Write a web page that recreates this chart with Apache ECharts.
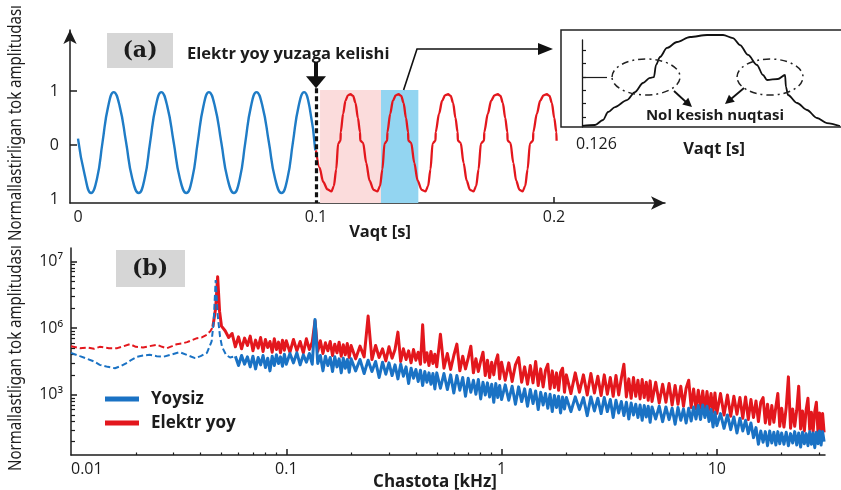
<!DOCTYPE html>
<html>
<head>
<meta charset="utf-8">
<script src="https://cdn.jsdelivr.net/npm/echarts@6.0.0/dist/echarts.min.js"></script>
<style>
html,body{margin:0;padding:0;background:#ffffff;}
#chart{width:841px;height:490px;}
</style>
</head>
<body>
<div id="chart"></div>
<script>
// ================= Panel (a): normalized current vs time =================
const timeTickLabels = [0, 0.1, 0.2];
const ampTickValues = [-1, 0, 1];
const arcOnset = 0.1;                 // s, arc appears
const arcWindow = [0.1017, 0.1273];   // s, pink region
const zoomWindow = [0.1273, 0.1430];  // s, blue region (zoomed in inset)

// [time s, normalized amplitude] - no arc (blue)
const noArcWave = [
  [0,0.12],[0.0028,-0.55],[0.0055,-0.89],[0.0080,-0.62],[0.0103,0.05],[0.0127,0.72],[0.0150,0.98],[0.0175,0.72],
  [0.0202,0.05],[0.0228,-0.62],[0.0255,-0.89],[0.0280,-0.62],[0.0303,0.05],[0.0327,0.72],[0.0350,0.98],[0.0375,0.72],
  [0.0402,0.05],[0.0428,-0.62],[0.0455,-0.89],[0.0480,-0.62],[0.0503,0.05],[0.0527,0.72],[0.0550,0.98],[0.0575,0.72],
  [0.0602,0.05],[0.0628,-0.62],[0.0655,-0.89],[0.0680,-0.62],[0.0703,0.05],[0.0727,0.72],[0.0750,0.98],[0.0775,0.72],
  [0.0802,0.05],[0.0828,-0.62],[0.0855,-0.89],[0.0880,-0.62],[0.0903,0.05],[0.0927,0.72],[0.0950,0.98],[0.0973,0.70],
  [0.0997,-0.10]
];
// [time s, normalized amplitude] - with arc (red)
const arcWave = [
  [0.1000,-0.10],[0.1015,-0.42],[0.1030,-0.68],[0.1048,-0.82],
  [0.1065,-0.86],[0.1075,-0.76],[0.1085,-0.45],[0.1093,0.03],[0.1103,0.08],[0.1104,0.24],[0.1114,0.58],[0.1124,0.82],[0.1134,0.92],[0.1145,0.94],
  [0.1156,0.91],[0.1166,0.78],[0.1176,0.50],[0.1185,0.24],[0.1186,0.08],[0.1198,0.04],[0.1211,-0.33],[0.1225,-0.66],[0.1242,-0.83],
  [0.1258,-0.86],[0.1269,-0.76],[0.1279,-0.45],[0.1288,0.03],[0.1299,0.08],[0.1300,0.24],[0.1312,0.58],[0.1323,0.82],[0.1335,0.92],[0.1347,0.94],
  [0.1358,0.91],[0.1368,0.78],[0.1378,0.50],[0.1387,0.24],[0.1388,0.08],[0.1400,0.04],[0.1413,-0.33],[0.1427,-0.66],[0.1444,-0.83],
  [0.1460,-0.86],[0.1471,-0.76],[0.1481,-0.45],[0.1490,0.03],[0.1502,0.08],[0.1503,0.24],[0.1517,0.58],[0.1530,0.82],[0.1542,0.92],[0.1555,0.94],
  [0.1566,0.91],[0.1576,0.78],[0.1586,0.50],[0.1595,0.24],[0.1596,0.08],[0.1608,0.04],[0.1620,-0.33],[0.1633,-0.66],[0.1647,-0.83],
  [0.1662,-0.86],[0.1673,-0.76],[0.1683,-0.45],[0.1693,0.03],[0.1706,0.08],[0.1707,0.24],[0.1722,0.58],[0.1736,0.82],[0.1750,0.92],[0.1764,0.94],
  [0.1775,0.91],[0.1785,0.78],[0.1795,0.50],[0.1804,0.24],[0.1805,0.08],[0.1817,0.04],[0.1829,-0.33],[0.1841,-0.66],[0.1855,-0.83],
  [0.1868,-0.86],[0.1879,-0.76],[0.1889,-0.45],[0.1899,0.03],[0.1912,0.08],[0.1913,0.24],[0.1928,0.58],[0.1942,0.82],[0.1956,0.92],[0.1970,0.94],
  [0.1981,0.91],[0.1991,0.78],[0.2001,0.50],[0.2010,0.24],[0.2011,0.08]
];

// Inset: one half cycle starting at 0.126 s (relative amplitude)
const insetRange = [0.126, 0.1435];
const insetCurve = [
  [0.12600,0.011],[0.12688,0.022],[0.12742,0.076],[0.12776,0.163],[0.12823,0.217],[0.12904,0.293],[0.12958,0.380],
  [0.13012,0.478],[0.13059,0.533],[0.13086,0.543],[0.13100,0.674],[0.13127,0.761],[0.13174,0.859],[0.13242,0.924],
  [0.13330,0.978],[0.13445,1.000],[0.13553,1.000],[0.13620,0.967],[0.13668,0.891],[0.13722,0.783],[0.13782,0.674],
  [0.13823,0.565],[0.13850,0.511],[0.13924,0.522],[0.13972,0.565],[0.13978,0.435],[0.13992,0.348],[0.14053,0.261],
  [0.14120,0.185],[0.14188,0.098],[0.14255,0.043],[0.14343,0.011]
];
const insetTicks = [0.11, 0.255, 0.40, 0.545, 0.69, 0.835];
const insetMarkLevel = 0.54;

// ================= Panel (b): spectrum =================
const freqTickLabels = [0.01, 0.1, 1, 10];       // kHz
const levelTickValues = [30, 40, 50];
const levelTickLabels = ['10³', '10⁶', '10⁷'];

// low-frequency part (dashed)  [kHz, level]
const lowFreqNoArc = [
  [0.0100,36.3],[0.0110,35.8],[0.0119,35.4],[0.0128,35.0],[0.0136,34.5],[0.0148,34.2],[0.0160,34.0],[0.0170,34.3],
  [0.0182,34.8],[0.0192,35.3],[0.0202,35.7],[0.0216,35.9],[0.0232,36.0],[0.0250,35.8],[0.0268,35.7],[0.0290,36.0],
  [0.0320,36.4],[0.0345,36.0],[0.0377,35.5],[0.0400,35.8],[0.0428,36.3],[0.0450,38.0],[0.0460,41.0],[0.0470,47.2],
  [0.0480,42.0],[0.0492,38.8],[0.0503,37.2],[0.0525,36.0],[0.0548,35.6],[0.0580,35.8]
];
const lowFreqArc = [
  [0.0100,37.3],[0.0110,37.0],[0.0119,37.1],[0.0128,36.9],[0.0136,37.2],[0.0150,37.0],[0.0164,37.0],[0.0176,37.3],
  [0.0188,37.6],[0.0200,37.2],[0.0216,37.1],[0.0232,37.3],[0.0251,37.5],[0.0265,37.2],[0.0279,37.0],[0.0295,37.3],
  [0.0310,37.6],[0.0328,37.7],[0.0346,37.9],[0.0365,38.2],[0.0385,38.5],[0.0405,38.6],[0.0428,39.0],[0.0445,39.6],[0.0456,40.2]
];
const arcPeak = [[0.0456,40.2],[0.0470,43.0],[0.0480,47.7],[0.0490,42.5],[0.0500,40.3]];

const specFreq = [
  0.052,0.054,0.056,0.058,0.060,0.062,0.064,0.066,0.068,0.070,0.072,0.074,0.076,0.078,0.080,0.082,0.084,0.086,0.088,0.090,0.092,0.094,0.096,0.098,0.100,
  0.104,0.108,0.112,0.116,0.120,0.124,0.128,0.132,0.136,0.140,0.144,0.148,0.152,0.156,0.160,0.164,0.168,0.172,0.176,0.180,0.184,0.188,0.192,0.196,0.200,
  0.21,0.22,0.23,0.24,0.25,0.26,0.27,0.28,0.29,0.30,0.31,0.32,0.33,0.34,0.35,0.36,0.37,0.38,0.39,0.40,0.41,0.42,0.43,0.44,0.45,0.46,0.47,0.48,0.49,0.50,
  0.52,0.54,0.56,0.58,0.60,0.62,0.64,0.66,0.68,0.70,0.72,0.74,0.76,0.78,0.80,0.82,0.84,0.86,0.88,0.90,0.92,0.94,0.96,0.98,1.00,
  1.04,1.08,1.12,1.16,1.20,1.24,1.28,1.32,1.36,1.40,1.44,1.48,1.52,1.56,1.60,1.64,1.68,1.72,1.76,1.80,1.84,1.88,1.92,1.96,2.00,
  2.1,2.2,2.3,2.4,2.5,2.6,2.7,2.8,2.9,3.0,3.1,3.2,3.3,3.4,3.5,3.6,3.7,3.8,3.9,4.0,4.1,4.2,4.3,4.4,4.5,4.6,4.7,4.8,4.9,5.0,
  5.2,5.4,5.6,5.8,6.0,6.2,6.4,6.6,6.8,7.0,7.2,7.4,7.6,7.8,8.0,8.2,8.4,8.6,8.8,9.0,9.2,9.4,9.6,9.8,10.0,
  10.4,10.8,11.2,11.6,12.0,12.4,12.8,13.2,13.6,14.0,14.4,14.8,15.2,15.6,16.0,16.4,16.8,17.2,17.6,18.0,18.4,18.8,19.2,19.6,20.0,
  20.5,21.0,21.5,22.0,22.5,23.0,23.5,24.0,24.5,25.0,25.5,26.0,26.5,27.0,27.5,28.0,28.5,29.0,29.5,30.0,30.5,31.0,31.5
];
const specArc = [
  39.6,38.6,39.2,37.2,38.7,36.9,38.5,37.4,38.8,36.6,38.2,37.0,38.6,36.5,38.3,37.1,38.0,36.4,38.4,36.8,37.9,36.3,38.2,36.7,38.1,
  36.4,38.3,36.6,38.0,36.3,38.4,36.8,37.9,41.1,36.5,38.1,36.2,37.8,36.6,38.0,35.9,37.6,36.3,37.9,35.8,37.5,36.0,37.7,35.6,37.4,
  35.4,37.3,35.7,41.8,35.3,37.4,35.6,36.9,35.1,37.2,35.5,36.8,39.4,35.0,36.9,35.3,36.6,34.8,36.8,35.2,36.4,34.6,40.5,34.9,36.3,34.4,36.5,34.7,36.1,34.2,
  39.1,34.0,36.2,33.8,35.9,37.6,33.6,35.8,33.9,35.5,37.3,33.3,35.4,33.5,35.1,36.4,32.9,35.2,32.6,34.9,33.0,35.0,36.0,32.4,34.9,
  32.2,34.8,32.0,34.5,35.6,31.9,34.2,31.6,34.4,31.8,35.0,31.4,33.9,31.2,33.7,34.6,30.9,33.6,31.1,33.3,30.7,33.4,34.0,30.4,33.0,
  30.2,33.3,30.4,33.0,30.0,33.2,30.3,32.8,29.9,33.0,30.1,32.6,29.8,32.9,30.0,32.5,34.6,29.7,32.4,29.5,32.6,29.8,32.2,29.4,32.3,29.6,31.9,29.2,32.1,29.0,
  31.9,28.8,31.6,28.9,31.7,28.5,31.4,28.6,31.3,28.3,31.0,32.2,28.1,30.9,27.9,30.7,28.0,30.6,27.6,30.5,27.8,30.2,27.4,30.3,27.2,
  30.2,27.0,30.0,26.8,29.8,27.1,29.6,26.5,29.7,26.3,29.3,26.6,29.1,26.0,28.9,29.6,25.8,28.6,25.6,28.4,25.9,28.2,30.2,25.3,28.0,
  25.2,28.1,32.7,25.0,27.9,25.3,27.7,31.3,24.9,27.6,24.6,27.8,29.5,24.8,27.4,24.5,27.5,28.9,24.3,27.3,24.6,27.2,24.4
];
const specNoArc = [
  null,null,null,35.8,34.4,35.9,34.6,35.7,34.2,35.8,33.9,35.6,34.5,35.9,34.1,35.5,33.6,35.8,34.4,36.0,34.7,35.7,34.3,36.1,34.6,
  36.2,34.8,36.3,34.5,36.0,34.9,36.2,34.6,41.3,34.7,35.9,33.6,35.8,34.4,35.6,33.5,35.7,34.2,35.4,33.3,35.5,34.0,35.3,33.4,35.4,
  33.6,35.3,33.2,35.2,33.5,35.0,32.6,34.9,33.1,34.8,32.9,34.5,32.4,34.6,32.8,34.2,31.7,34.0,32.5,33.8,32.0,33.7,31.4,33.5,31.9,33.3,31.6,33.2,30.9,33.3,
  31.0,33.2,30.8,33.0,30.3,32.9,30.7,32.6,29.8,32.5,30.4,32.2,30.1,32.3,29.4,31.9,30.0,31.8,29.7,31.6,28.9,31.7,29.6,31.4,29.3,
  31.5,29.2,31.3,28.6,31.2,29.0,30.9,28.3,30.8,28.7,30.6,27.8,30.4,28.5,30.2,28.0,30.1,27.5,29.9,28.1,29.8,27.3,29.7,27.9,29.6,
  27.5,29.7,27.8,29.6,26.9,29.7,27.6,29.5,27.2,29.6,27.5,29.3,26.6,29.2,27.3,29.0,26.9,28.9,26.4,28.8,27.0,28.6,26.6,28.5,26.2,28.4,26.7,28.3,25.9,28.2,
  26.4,28.3,26.0,28.2,26.3,28.0,25.6,28.1,26.2,27.9,25.8,28.0,26.1,28.2,26.4,28.4,26.3,28.5,26.6,28.3,26.0,27.8,25.2,27.4,25.4,
  27.2,25.0,27.0,24.8,26.7,24.3,26.5,24.6,26.2,24.2,25.8,23.6,25.1,22.6,24.6,22.9,24.5,22.4,24.6,22.8,24.4,22.5,24.5,22.7,24.3,
  22.6,24.4,22.4,24.2,22.8,24.5,22.5,24.3,22.2,24.4,22.7,24.2,22.4,24.5,22.6,24.3,22.1,24.4,22.7,24.6,22.5,24.5,23.0
];

// ================= build =================
const BLUE = '#1a72c4', RED = '#e3171d', INK = '#1c1c1c';
const FONT = '"Open Sans", "Noto Sans", sans-serif';
const lg = Math.log10;
const fMax = 31.8;
const toLogPairs = arr => arr.map(p => [lg(p[0]), p[1]]);
const specPairs = vals => specFreq.map((f, i) => [lg(f), vals[i]]).filter(p => p[1] != null);

const xMinor = [];
for (let d = -2; d <= 1; d++) for (let k = 2; k <= 9; k++) { const v = d + lg(k); if (v < lg(fMax)) xMinor.push(v); }
const yMinor = [];
for (let b = 20; b <= 50; b += 10) for (let k = 2; k <= 9; k++) { const v = b + 10 * lg(k); if (v > 21 && v < 52) yMinor.push(v); }

const chart = echarts.init(document.getElementById('chart'), null, {width: 841, height: 490});
const axisLineStyle = {color: INK, width: 1.5};
const labelStyle = {color: INK, fontSize: 16, fontFamily: FONT};

chart.setOption({
  animation: false,
  backgroundColor: '#ffffff',
  grid: [
    {left: 70, top: 30, width: 595, height: 173},
    {left: 71, top: 248, width: 754, height: 207},
    {left: 582, top: 40, width: 259, height: 87}
  ],
  legend: {
    data: ['Yoysiz', 'Elektr yoy'], orient: 'vertical', left: 100, top: 385,
    itemWidth: 34, itemHeight: 5, itemGap: 6, icon: 'rect',
    textStyle: {color: INK, fontSize: 17, fontWeight: 'bold', fontFamily: FONT, lineHeight: 18, padding: [0, 0, 0, 7]}
  },
  xAxis: [
    {gridIndex: 0, type: 'value', min: -0.00336, max: 0.24664, splitLine: {show: false},
      axisLine: {onZero: false, lineStyle: axisLineStyle, symbol: ['none', 'arrow'], symbolSize: [10, 14]},
      axisTick: {inside: true, length: 6, customValues: [0.2], lineStyle: axisLineStyle},
      axisLabel: Object.assign({customValues: timeTickLabels, margin: 6, formatter: v => String(+v.toFixed(2))}, labelStyle)},
    {gridIndex: 1, type: 'value', position: 'bottom', min: -2, max: lg(fMax), splitLine: {show: false},
      axisLine: {onZero: false, lineStyle: axisLineStyle},
      axisTick: {inside: true, length: 6, customValues: freqTickLabels.slice(1).map(lg), lineStyle: axisLineStyle},
      axisLabel: Object.assign({customValues: freqTickLabels.map(lg), margin: 6, alignMinLabel: 'left',
        formatter: v => String(+Math.pow(10, v).toPrecision(3))}, labelStyle)},
    {gridIndex: 1, type: 'value', position: 'bottom', min: -2, max: lg(fMax), splitLine: {show: false},
      axisLine: {show: false, onZero: false}, axisLabel: {show: false},
      axisTick: {inside: true, length: 2.5, customValues: xMinor, lineStyle: {color: INK, width: 1.2}}},
    {gridIndex: 2, type: 'value', min: insetRange[0], max: insetRange[1], show: false, axisLine: {onZero: false}}
  ],
  yAxis: [
    {gridIndex: 0, type: 'value', min: -1.074, max: 2.13, splitLine: {show: false},
      axisLine: {onZero: false, lineStyle: axisLineStyle, symbol: ['none', 'arrow'], symbolSize: [10, 14]},
      axisTick: {inside: true, length: 7, customValues: [0, 1], lineStyle: axisLineStyle},
      axisLabel: Object.assign({customValues: ampTickValues, margin: 11, formatter: v => String(Math.abs(v))}, labelStyle)},
    {gridIndex: 1, type: 'value', position: 'left', min: 21, max: 52, splitLine: {show: false},
      axisLine: {onZero: false, lineStyle: axisLineStyle},
      axisTick: {inside: true, length: 6, customValues: levelTickValues, lineStyle: axisLineStyle},
      axisLabel: Object.assign({customValues: levelTickValues, margin: 8,
        formatter: v => levelTickLabels[levelTickValues.indexOf(Math.round(v))]}, labelStyle)},
    {gridIndex: 1, type: 'value', position: 'left', min: 21, max: 52, splitLine: {show: false},
      axisLine: {show: false, onZero: false}, axisLabel: {show: false},
      axisTick: {inside: true, length: 4, customValues: yMinor, lineStyle: {color: INK, width: 1.2}}},
    {gridIndex: 2, type: 'value', min: 0, max: 87 / 92, splitLine: {show: false},
      axisLine: {onZero: false, lineStyle: {color: INK, width: 1.3}},
      axisTick: {inside: true, length: 4, customValues: insetTicks, lineStyle: {color: INK, width: 1.2}},
      axisLabel: {show: false}}
  ],
  series: [
    {name: 'regions', type: 'line', xAxisIndex: 0, yAxisIndex: 0, data: [], z: 1, silent: true,
      markArea: {silent: true, data: [
        [{coord: [arcWindow[0], 1.02], itemStyle: {color: '#fbdcdc'}}, {coord: [arcWindow[1], -1.074]}],
        [{coord: [zoomWindow[0], 1.02], itemStyle: {color: '#93d5f1'}}, {coord: [zoomWindow[1], -1.074]}]
      ]}},
    {name: 'noArcWave', type: 'line', xAxisIndex: 0, yAxisIndex: 0, data: noArcWave, smooth: true,
      symbol: 'none', z: 3, lineStyle: {color: '#1f7cc6', width: 2.4}, itemStyle: {color: '#1f7cc6'}},
    {name: 'arcWave', type: 'line', xAxisIndex: 0, yAxisIndex: 0, data: arcWave, smooth: 0.3, smoothMonotone: 'x',
      symbol: 'none', z: 3, lineStyle: {color: RED, width: 2.3, join: 'round'}, itemStyle: {color: RED}},
    {name: 'onset', type: 'line', xAxisIndex: 0, yAxisIndex: 0, data: [], z: 5, silent: true,
      markLine: {silent: true, symbol: 'none', label: {show: false},
        lineStyle: {color: '#111', width: 3.2, type: [5, 3]},
        data: [[{coord: [arcOnset, 1.05]}, {coord: [arcOnset, -1.074]}]]}},
    {name: 'arcLow', type: 'line', xAxisIndex: 1, yAxisIndex: 1, data: toLogPairs(lowFreqArc), symbol: 'none', z: 3,
      lineStyle: {color: RED, width: 2, type: [6, 3]}},
    {name: 'Elektr yoy', type: 'line', xAxisIndex: 1, yAxisIndex: 1,
      data: toLogPairs(arcPeak).concat(specPairs(specArc)), symbol: 'none', z: 3,
      lineStyle: {color: RED, width: 3, join: 'round'}, itemStyle: {color: RED}},
    {name: 'noArcLow', type: 'line', xAxisIndex: 1, yAxisIndex: 1, data: toLogPairs(lowFreqNoArc), symbol: 'none', z: 4,
      lineStyle: {color: BLUE, width: 2, type: [6, 3]}},
    {name: 'Yoysiz', type: 'line', xAxisIndex: 1, yAxisIndex: 1, data: specPairs(specNoArc), symbol: 'none', z: 4,
      lineStyle: {color: BLUE, width: 3, join: 'round'}, itemStyle: {color: BLUE}},
    {name: 'inset', type: 'line', xAxisIndex: 3, yAxisIndex: 3, data: insetCurve, symbol: 'none', z: 5, clip: false,
      smooth: 0.3, smoothMonotone: 'x', lineStyle: {color: '#111', width: 1.8},
      markLine: {silent: true, symbol: 'none', label: {show: false}, lineStyle: {color: INK, width: 1.2, type: 'solid'},
        data: [[{coord: [insetRange[0], insetMarkLevel]}, {coord: [0.12769, insetMarkLevel]}]]}}
  ]
});

// ---------- annotations ----------
function arrowHead(x1, y1, x2, y2, len, half) {
  const dx = x2 - x1, dy = y2 - y1, L = Math.hypot(dx, dy), ux = dx / L, uy = dy / L;
  const bx = x2 - ux * len, by = y2 - uy * len;
  return [[x2, y2], [bx - uy * half, by + ux * half], [bx + uy * half, by - ux * half]];
}
const measureCtx = document.createElement('canvas').getContext('2d');
function fitScale(text, font, target) { measureCtx.font = font; return target / measureCtx.measureText(text).width; }

const onsetTop = chart.convertToPixel({gridIndex: 0}, [arcOnset, 1.05]);
const callStart = chart.convertToPixel({gridIndex: 0}, [zoomWindow[0] + 0.0095, 1.02]);
const ox = onsetTop[0], oy = onsetTop[1];
const txt = (x, y, text, font, align, extra) => Object.assign({type: 'text', x: x, y: y, z: 10,
  style: {text: text, font: font, fill: INK, textAlign: align || 'center', textVerticalAlign: 'middle', align: align || 'center', verticalAlign: 'middle'}}, extra || {});
const BOLD = 'bold 16.5px ' + FONT;
const dashDot = [7, 4, 2, 4];
const titleFont = '18px "Noto Sans", "Open Sans", sans-serif';
const titleA = 'Normallastirligan tok amplitudası';
const titleB = 'Normallastligan tok amplitudası';
const sA = fitScale(titleA, titleFont, 236);
const sB = fitScale(titleB, titleFont, 226);

chart.setOption({
  graphic: [
    {type: 'rect', shape: {x: 107, y: 33, width: 66, height: 35}, style: {fill: '#d6d6d6'}, z: 1},
    txt(140, 51, '(a)', 'bold 22px "DejaVu Serif", serif'),
    {type: 'rect', shape: {x: 116, y: 250, width: 69, height: 37}, style: {fill: '#d6d6d6'}, z: 1},
    txt(150, 269, '(b)', 'bold 22px "DejaVu Serif", serif'),
    txt(187, 54, 'Elektr yoy yuzaga kelishi', BOLD, 'left'),
    {type: 'line', shape: {x1: ox, y1: 62, x2: ox, y2: oy - 10}, style: {stroke: '#111', lineWidth: 4}, z: 10},
    {type: 'polygon', shape: {points: arrowHead(ox, 62, ox, oy, 12, 10)}, style: {fill: '#111'}, z: 10},
    {type: 'polyline', shape: {points: [[callStart[0], callStart[1]], [417, 49], [540, 49]]}, style: {stroke: '#111', lineWidth: 1.6, fill: null}, z: 10},
    {type: 'polygon', shape: {points: arrowHead(417, 49, 553, 49, 15, 6)}, style: {fill: '#111'}, z: 10},
    {type: 'rect', shape: {x: 561, y: 30, width: 290, height: 97}, style: {fill: null, stroke: '#222', lineWidth: 1.5}, z: 6},
    {type: 'ellipse', shape: {cx: 646, cy: 77, rx: 34, ry: 18}, style: {fill: null, stroke: '#222', lineWidth: 1.5, lineDash: dashDot}, z: 10},
    {type: 'ellipse', shape: {cx: 770, cy: 77, rx: 33, ry: 18}, style: {fill: null, stroke: '#222', lineWidth: 1.5, lineDash: dashDot}, z: 10},
    {type: 'line', shape: {x1: 674, y1: 91, x2: 686, y2: 102}, style: {stroke: '#111', lineWidth: 1.8}, z: 10},
    {type: 'polygon', shape: {points: arrowHead(674, 91, 692, 107, 9, 4.5)}, style: {fill: '#111'}, z: 10},
    {type: 'line', shape: {x1: 744, y1: 88, x2: 731, y2: 99}, style: {stroke: '#111', lineWidth: 1.8}, z: 10},
    {type: 'polygon', shape: {points: arrowHead(744, 88, 725, 104, 9, 4.5)}, style: {fill: '#111'}, z: 10},
    txt(715, 116, 'Nol kesish nuqtasi', 'bold 15px ' + FONT),
    txt(576, 144, '0.126', '16px ' + FONT, 'left'),
    txt(714, 149, 'Vaqt [s]', BOLD),
    txt(380, 232, 'Vaqt [s]', BOLD),
    txt(435, 482, 'Chastota [kHz]', 'bold 17px ' + FONT),
    txt(16, 123, titleA, titleFont, 'center', {rotation: Math.PI / 2, scaleX: sA}),
    txt(16, 358, titleB, titleFont, 'center', {rotation: Math.PI / 2, scaleX: sB})
  ]
});
</script>
</body>
</html>
